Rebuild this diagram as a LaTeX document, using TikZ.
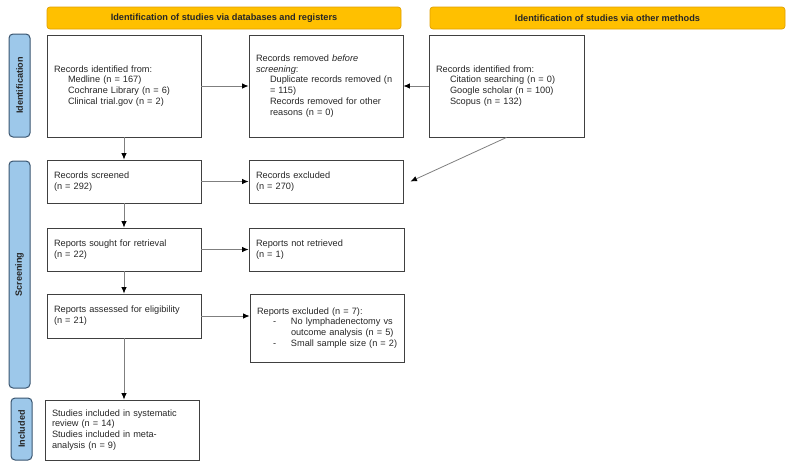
\documentclass[tikz,border=0pt]{standalone}
\usepackage{fontspec}
\setmainfont{Liberation Sans}
\usetikzlibrary{arrows.meta}
\definecolor{orangefill}{HTML}{FFC000}
\definecolor{orangeline}{HTML}{E0A000}
\definecolor{bluefill}{HTML}{9DC8EA}
\definecolor{blueline}{HTML}{3A5570}
\definecolor{boxline}{HTML}{404040}
\definecolor{arrowline}{HTML}{7F7F7F}
\tikzset{
  box/.style={draw=boxline, line width=0.9pt, rectangle, inner xsep=7pt, inner ysep=3pt,
    align=left, font=\fontsize{9.2}{10.8}\selectfont, text=black!85},
  header/.style={draw=orangeline, fill=orangefill, line width=0.7pt, rounded corners=3pt,
    font=\bfseries\fontsize{9.2}{10}\selectfont, text=black!85},
  side/.style={draw=blueline, fill=bluefill, line width=1pt, rounded corners=4pt},
  sidetext/.style={rotate=90, font=\bfseries\fontsize{9.1}{10}\selectfont, text=black!85},
  flow/.style={draw=arrowline, line width=0.8pt, arrows={-{Latex[length=6.5pt,width=5.5pt,black]}}},
}
\newcommand{\ind}{\hspace*{14pt}}
\begin{document}
\begin{tikzpicture}[x=1pt,y=-1pt]
\useasboundingbox (0,0) rectangle (790,467);
% headers
\node[header, minimum width=354pt, minimum height=22pt] (h1) at (224,18) {Identification of studies via databases and registers};
\node[header, minimum width=355pt, minimum height=22pt] (h2) at (607.5,18) {Identification of studies via other methods};
% side bars
\node[side, minimum width=21pt, minimum height=103pt] (s1) at (19.5,85.5) {};
\node[sidetext] (s1t) at (s1.center) {Identification};
\node[side, minimum width=21pt, minimum height=227pt] (s2) at (19.5,274.5) {};
\node[sidetext] (s2t) at (s2.center) {Screening};
\node[side, minimum width=21pt, minimum height=62pt] (s3) at (21.5,429) {};
\node[sidetext] (s3t) at (s3.center) {Included};
% boxes
\node[box, minimum height=102pt, text width=140pt] (A) at (124,86) {Records identified from:\\\ind Medline (n = 167)\\\ind Cochrane Library (n = 6)\\\ind Clinical trial.gov (n = 2)};
\node[box, minimum height=102pt, text width=140pt] (B) at (326,86) {Records removed \textit{before}\\\textit{screening}:\\\ind Duplicate records removed (n\\\ind = 115)\\\ind Records removed for other\\\ind reasons (n = 0)};
\node[box, minimum height=102pt, text width=141pt] (C) at (506.5,86) {Records identified from:\\\ind Citation searching (n = 0)\\\ind Google scholar (n = 100)\\\ind Scopus (n = 132)};
\node[box, minimum height=43pt, text width=140pt] (D) at (124,181.5) {Records screened\\(n = 292)};
\node[box, minimum height=43pt, text width=140pt] (E) at (326,181.5) {Records excluded\\(n = 270)};
\node[box, minimum height=43pt, text width=140pt] (F) at (124,249.5) {Reports sought for retrieval\\(n = 22)};
\node[box, minimum height=43pt, text width=141pt] (G) at (326.5,250) {Reports not retrieved\\(n = 1)};
\node[box, minimum height=44pt, text width=140pt] (H) at (124,316) {Reports assessed for eligibility\\(n = 21)};
\node[box, minimum height=68pt, text width=140pt] (I) at (327,328) {\mbox{Reports excluded (n = 7):}\\\makebox[34pt][l]{\hspace*{16pt}-}\mbox{No lymphadenectomy vs}\\\hspace*{34pt}\mbox{outcome analysis (n = 5)}\\\makebox[34pt][l]{\hspace*{16pt}-}\mbox{Small sample size (n = 2)}};
\node[box, minimum height=60pt, text width=140pt] (J) at (122,430) {Studies included in systematic\\review (n = 14)\\Studies included in meta-\\analysis (n = 9)};
% connectors
\draw[flow] (A.east) -- (B.west);
\draw[flow] (C.west) -- (B.east);
\draw[flow] (C.south) -- ([xshift=7pt]E.east);
\draw[flow] (A.south) -- (D.north);
\draw[flow] (D.east) -- (E.west);
\draw[flow] (D.south) -- (F.north);
\draw[flow] (F.east) -- (F.east -| G.west);
\draw[flow] (F.south) -- (H.north);
\draw[flow] (H.east) -- (H.east -| I.west);
\draw[flow] (H.south) -- (H.south |- J.north);
\end{tikzpicture}
\end{document}
